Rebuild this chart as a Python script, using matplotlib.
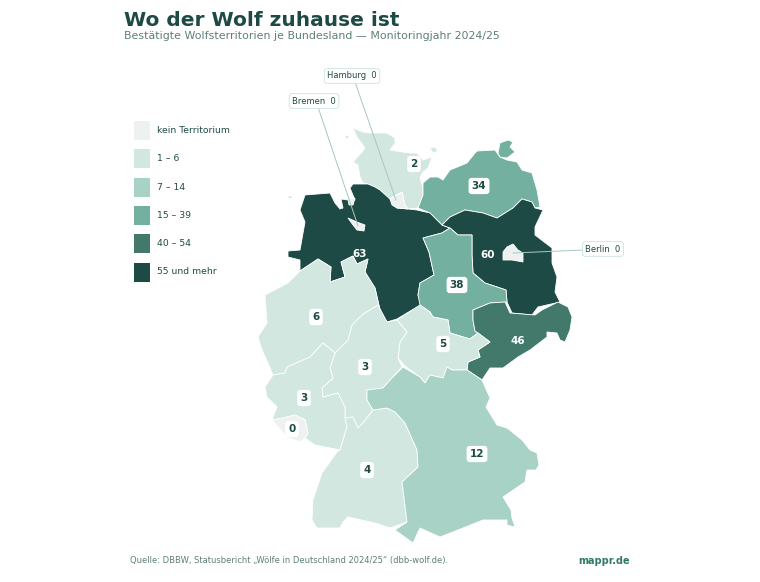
#!/usr/bin/env python3

import matplotlib
matplotlib.use('Agg')
import matplotlib.pyplot as plt
from matplotlib.patches import Polygon, Rectangle

# Territorien je Bundesland
states = ['SH', 'MV', 'NI', 'BB', 'ST', 'SN', 'TH', 'HE', 'NW', 'RP', 'SL', 'BW', 'BY', 'HH', 'HB', 'BE']
values = [2, 34, 63, 60, 38, 46, 5, 3, 6, 3, 0, 4, 12, 0, 0, 0]

# Klassen
class_labels = ['kein Territorium', '1 – 6', '7 – 14', '15 – 39', '40 – 54', '55 und mehr']
class_upper = [0, 6, 14, 39, 54, 999]
class_colors = ['#edf2f0', '#d2e7df', '#a8d2c5', '#74b09f', '#42796b', '#1e4a45']

# Umrisse, in Kartenkoordinaten der Vorlage
sh = [(353,128),(363,132),(370,133),(387,133),(395,138),(395,143),(390,150),(402,152),(410,153),(417,153),
      (423,160),(432,157),(428,168),(422,173),(420,178),(423,188),(423,195),(418,208),(408,209),(405,205),
      (402,192),(390,199),(380,190),(375,187),(368,184),(363,183),(360,177),(358,165),(353,162),(362,152),
      (365,148),(357,137)]
sh_fehmarn = [(430,148),(435,147),(438,151),(433,153)]
sh_islands = [(346,135),(349,136),(348,139),(345,138)]
mv = [(418,208),(423,195),(423,183),(430,177),(438,177),(443,180),(450,170),(467,163),(475,153),(477,151),
      (495,150),(500,157),(507,160),(517,162),(522,170),(532,173),(537,190),(540,207),(535,208),(532,202),
      (522,199),(513,208),(497,218),(483,213),(465,210),(450,217),(442,225),(430,213)]
mv_ruegen = [(498,153),(500,143),(508,140),(513,142),(510,147),(515,152),(507,158),(500,157)]
ni = [(300,210),(305,195),(330,193),(335,203),(340,209),(343,208),(341,199),(348,200),(355,200),(350,188),
      (353,184),(368,184),(375,187),(380,190),(390,199),(397,208),(408,209),(417,210),(430,213),(442,225),(450,228),
      (442,233),(423,238),(429,252),(434,275),(420,283),(418,295),(422,305),(407,313),(397,319),(387,322),
      (380,310),(375,288),(365,272),(368,259),(357,264),(353,256),(341,262),(345,277),(330,282),
      (331,267),(318,259),(300,271),(300,260),(288,257),(288,251),(300,250),(305,222)]
ni_island = [(288,197),(292,196),(291,198)]
bb = [(442,225),(450,217),(465,210),(483,213),(497,218),(513,208),(522,199),(532,202),(535,208),(543,210),
      (535,227),(535,235),(552,248),(552,263),(557,277),(555,292),(560,302),(538,307),(532,315),(512,313),
      (507,302),(506,290),(485,283),(473,273),(472,255),(472,235),(458,235),(450,228)]
st = [(450,228),(458,235),(472,235),(472,255),(473,273),(485,283),(506,290),(507,302),(490,303),(473,310),
      (473,320),(475,331),(478,333),(470,339),(450,333),(448,320),(433,317),(430,312),(420,305),
      (418,295),(420,283),(434,275),(429,252),(423,238),(442,233)]
sn = [(473,310),(490,303),(505,302),(510,313),(535,315),(542,310),(558,302),(568,307),(572,317),(570,330),
      (565,342),(560,340),(557,333),(547,332),(547,337),(530,350),(518,357),(503,368),(490,368),(482,380),
      (467,370),(468,362),(480,357),(478,350),(490,342),(478,333),(475,331),(473,320)]
th = [(397,320),(412,310),(420,305),(430,312),(433,317),(448,320),(450,333),(470,339),(478,333),(490,342),
      (478,350),(480,357),(468,362),(467,370),(452,370),(447,367),(443,378),(430,375),(425,383),(420,377),
      (405,366),(398,358),(400,342),(407,332)]
he = [(352,325),(363,314),(378,305),(387,322),(397,320),(407,332),(400,342),(398,358),(402,367),(392,378),
      (383,388),(367,390),(367,400),(373,410),(363,423),(358,428),(353,417),(345,418),(345,407),(338,393),
      (323,397),(322,388),(333,378),(330,368),(335,353),(348,340)]
nw = [(300,271),(318,259),(331,267),(330,282),(345,277),(341,262),(353,256),(357,264),(368,259),
      (365,272),(375,288),(380,310),(378,305),(363,314),(352,325),(348,340),(335,353),(323,343),(310,357),
      (287,367),(285,373),(273,375),(268,363),(262,350),(258,337),(267,323),(265,295),(288,283)]
rp = [(273,375),(285,373),(287,367),(310,357),(323,343),(335,353),(330,368),(333,378),(322,388),(323,397),
      (338,393),(345,407),(345,418),(347,427),(340,450),(325,447),(315,445),(305,438),(308,433),(305,420),(295,415),
      (283,418),(272,420),(277,407),(267,397),(265,387)]
sl = [(272,420),(283,418),(295,415),(305,420),(308,433),(305,438),(300,442),(287,437),(278,427)]
bw = [(358,428),(363,423),(373,410),(387,408),(395,412),(405,423),(417,450),(418,467),(402,482),(407,522),
      (390,528),(375,523),(348,517),(343,522),(340,528),(317,528),(312,520),(313,500),(322,473),(337,452),
      (340,450),(347,427),(345,418),(353,417)]
by = [(403,367),(420,377),(425,383),(430,375),(443,378),(447,367),(452,370),(467,370),(482,380),(490,398),
      (486,407),(497,425),(507,428),(522,440),(530,450),(537,453),(539,465),(536,470),(527,470),(525,482),
      (503,497),(511,510),(512,518),(515,527),(507,525),(507,520),(483,520),(463,528),(440,537),(420,528),
      (413,543),(395,530),(407,522),(402,482),(418,467),(417,450),(405,423),(395,412),(387,408),(373,410),(367,400),
      (367,390),(383,388),(392,378)]
hh = [(390,199),(402,192),(405,205),(408,209),(397,208),(392,205)]
hb = [(348,218),(357,222),(365,225),(364,231),(357,230),(353,225)]
hb_north = [(348,199),(355,198),(353,205),(349,205)]
be = [(503,252),(507,247),(513,244),(518,250),(523,253),(523,262),(512,260),(503,260)]

outlines = {'SH': [sh, sh_fehmarn, sh_islands], 'MV': [mv, mv_ruegen], 'NI': [ni, ni_island], 'BB': [bb],
            'ST': [st], 'SN': [sn], 'TH': [th], 'HE': [he], 'NW': [nw], 'RP': [rp], 'SL': [sl], 'BW': [bw],
            'BY': [by], 'HH': [hh], 'HB': [hb, hb_north], 'BE': [be]}

# Beschriftung in der Karte
label_pos = {'SH': (414,164), 'MV': (479,186), 'NI': (360,254), 'BB': (488,255), 'ST': (457,285),
             'SN': (518,341), 'TH': (443,344), 'HE': (365,367), 'NW': (316,317), 'RP': (304,398),
             'SL': (292,429), 'BW': (367,470), 'BY': (477,454)}

# Stadtstaaten mit Hinweislinie
callout_names = ['Hamburg', 'Bremen', 'Berlin']
callout_states = ['HH', 'HB', 'BE']
callout_box = [(352,76), (314,101), (603,249)]
callout_start = [(355,82), (318,107), (584,250)]
callout_end = [(396,200), (358,226), (513,253)]

dark = '#1e4a45'
grey = '#5f7f7a'


def colour_of(v):
    for upper, col in zip(class_upper, class_colors):
        if v <= upper:
            return col
    return class_colors[-1]


plt.rc('font', family='DejaVu Sans')

fig = plt.figure(figsize=(7.6, 5.82), dpi=100)
ax = fig.add_axes([0, 0, 1, 1])
ax.set_xlim(0, 760)
ax.set_ylim(582, 0)
ax.axis('off')

value_of = dict(zip(states, values))

for name in states:
    for ring in outlines[name]:
        ax.add_patch(Polygon(ring, closed=True, facecolor=colour_of(value_of[name]),
                             edgecolor='white', linewidth=0.6, zorder=2))

for name, (x, y) in label_pos.items():
    v = value_of[name]
    if v >= 40:
        ax.text(x, y, str(v), color='white', fontsize=7.5, fontweight='bold', ha='center', va='center', zorder=5)
    else:
        ax.text(x, y, str(v), color=dark, fontsize=7.5, fontweight='bold', ha='center', va='center', zorder=5,
                bbox=dict(boxstyle='round,pad=0.3', facecolor='white', edgecolor='none'))

for name, st_key, box, a, b in zip(callout_names, callout_states, callout_box, callout_start, callout_end):
    ax.plot([a[0], b[0]], [a[1], b[1]], color='#a8c8bf', linewidth=0.7, zorder=4)
    ax.text(box[0], box[1], f'{name}  {value_of[st_key]}', color=dark, fontsize=6, ha='center', va='center', zorder=5,
            bbox=dict(boxstyle='round,pad=0.35', facecolor='white', edgecolor='#d2e7df', linewidth=0.7))

# Legende
for i, (lab, col) in enumerate(zip(class_labels, class_colors)):
    y0 = 121 + i * 28.3
    ax.add_patch(Rectangle((134, y0), 16, 19, facecolor=col, edgecolor='none', zorder=2))
    ax.text(157, y0 + 9.5, lab, color=dark, fontsize=6.7, ha='left', va='center')

ax.text(124, 20, 'Wo der Wolf zuhause ist', color=dark, fontsize=14.5, fontweight='bold', ha='left', va='center')
ax.text(124, 36, 'Bestätigte Wolfsterritorien je Bundesland — Monitoringjahr 2024/25', color=grey,
        fontsize=7.9, ha='left', va='center')
ax.text(130, 560, 'Quelle: DBBW, Statusbericht „Wölfe in Deutschland 2024/25“ (dbb-wolf.de).', color=grey,
        fontsize=6, ha='left', va='center')
ax.text(630, 561, 'mappr.de', color='#2f7a66', fontsize=7, fontweight='bold', ha='right', va='center')

fig.savefig('out.png', dpi=100)
